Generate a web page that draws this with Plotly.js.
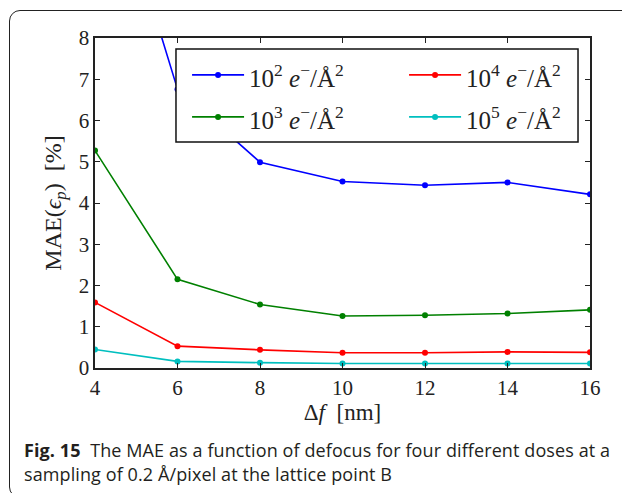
<!DOCTYPE html>
<html>
<head>
<meta charset="utf-8">
<script src="https://cdn.plot.ly/plotly-3.0.1.min.js"></script>
<style>
  html, body { margin:0; padding:0; background:#fff; }
  #wrap { position:relative; width:622px; height:493px; overflow:hidden; }
  #chart { position:absolute; left:0; top:0; width:622px; height:493px; }
  #frame { position:absolute; left:9px; top:10px; width:700px; height:488px;
           border:1.5px solid #222; border-radius:11px; pointer-events:none; box-sizing:border-box; }
  #caption { position:absolute; left:24px; top:438px; width:600px; font-family:"Open Sans", sans-serif;
             font-size:18px; line-height:24px; color:#231f20; letter-spacing:0.1px; white-space:nowrap; }
  #caption b { font-weight:700; }
</style>
</head>
<body>
<div id="wrap">
  <div id="chart"></div>
  <div id="frame"></div>
  <div id="caption"><b>Fig. 15</b>&nbsp; The MAE as a function of defocus for four different doses at a<br>sampling of 0.2 Å/pixel at the lattice point B</div>
</div>
<script>
const defocus = [4, 6, 8, 10, 12, 14, 16];
const dose1e2 = [13.3, 6.76, 4.99, 4.52, 4.43, 4.50, 4.21];
const dose1e3 = [5.27, 2.15, 1.54, 1.26, 1.28, 1.32, 1.41];
const dose1e4 = [1.59, 0.53, 0.44, 0.37, 0.37, 0.39, 0.38];
const dose1e5 = [0.45, 0.16, 0.13, 0.11, 0.11, 0.11, 0.11];
const doseExponents = ['2', '3', '4', '5'];
const seriesValues = [dose1e2, dose1e3, dose1e4, dose1e5];
const seriesColors = ['#0000ff', '#008000', '#ff0000', '#00bfbf'];
const legendRanks = [1, 3, 2, 4];

const serif = 'Liberation Serif, DejaVu Serif, serif';
const traces = seriesValues.map((vals, i) => ({
  x: defocus, y: vals, type: 'scatter', mode: 'lines+markers',
  name: '<span style="font-size:25px">10<sup>' + doseExponents[i] + '</sup> <i>e</i><sup>−</sup>/Å<sup>2</sup></span>',
  legendrank: legendRanks[i],
  line: { color: seriesColors[i], width: 1.6 },
  marker: { color: seriesColors[i], size: 6 },
  cliponaxis: true
}));

const layout = {
  width: 622, height: 493,
  margin: { l: 95, r: 32, t: 38, b: 125, autoexpand: false },
  paper_bgcolor: 'rgba(0,0,0,0)', plot_bgcolor: '#fff',
  font: { family: serif, size: 21, color: '#222' },
  showlegend: true,
  legend: {
    orientation: 'h', x: 0.186, y: 0.967, xanchor: 'left', yanchor: 'top',
    entrywidth: 150, entrywidthmode: 'pixels', itemwidth: 52,
    bgcolor: 'rgba(0,0,0,0)', borderwidth: 0,
    font: { family: serif, size: 30, color: '#222' }
  },
  shapes: [{
    type: 'rect', xref: 'paper', yref: 'paper', layer: 'above',
    x0: 0.1636, x1: 0.9758, y0: 0.685, y1: 0.967,
    fillcolor: '#fff', line: { color: '#111', width: 1.5 }
  }],
  xaxis: {
    range: [4, 16], tickvals: [4, 6, 8, 10, 12, 14, 16],
    ticks: 'inside', ticklen: 5, tickwidth: 1, tickcolor: '#222',
    mirror: 'ticks', showline: true, linecolor: '#222', linewidth: 1.6,
    showgrid: false, zeroline: false,
    tickfont: { family: serif, size: 21, color: '#222' },
    title: { text: 'Δ<i>f</i>  [nm]', font: { family: serif, size: 23, color: '#222' }, standoff: 4 }
  },
  yaxis: {
    range: [0, 8], tickvals: [0, 1, 2, 3, 4, 5, 6, 7, 8],
    ticks: 'inside', ticklen: 5, tickwidth: 1, tickcolor: '#222',
    mirror: 'ticks', showline: true, linecolor: '#222', linewidth: 1.6,
    showgrid: false, zeroline: false,
    tickfont: { family: serif, size: 21, color: '#222' },
    title: { text: 'MAE(<i>ϵ</i><sub><i>p</i></sub>)  [%]', font: { family: serif, size: 24, color: '#222' }, standoff: 10 }
  }
};
Plotly.newPlot('chart', traces, layout, { displayModeBar: false, staticPlot: true });
</script>
</body>
</html>
